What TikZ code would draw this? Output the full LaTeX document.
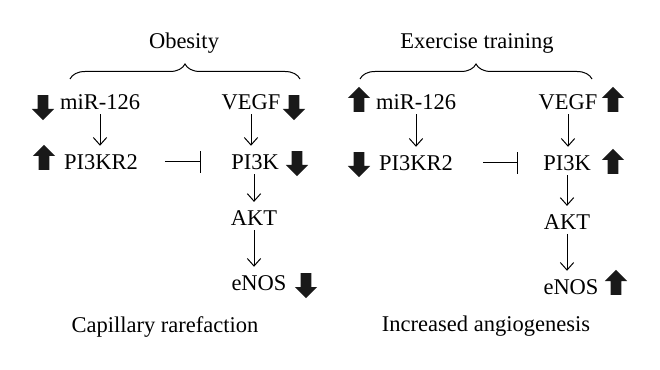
\documentclass[tikz,border=0pt]{standalone}
\usepackage{fontspec}
\setmainfont{Liberation Serif}
\usetikzlibrary{arrows.meta,shapes.arrows,decorations.pathreplacing,positioning}

\begin{document}
\begin{tikzpicture}[x=0.6pt,y=-0.6pt,
    lbl/.style={font=\fontsize{13.5}{16}\selectfont, inner sep=1pt},
    act/.style={-{Straight Barb[length=4.5pt,width=8pt]}, line width=0.6pt,
        shorten <=1.5pt, shorten >=4pt},
    inh/.style={-{Bar[width=13pt]}, line width=0.6pt},
    fat/.style={single arrow, fill=black!90, minimum height=15pt, minimum width=13pt,
        single arrow head extend=3.5pt, inner sep=3pt},
    fatup/.style={fat, shape border rotate=90},
    fatdown/.style={fat, shape border rotate=270},
    grp/.style={decorate, decoration={brace, amplitude=9pt}, line width=0.6pt}]

    \useasboundingbox (0,0) rectangle (660,370);

    % Obesity
    \node[lbl] (obes) at (184,43) {Obesity};
    \coordinate (bLa) at (70,79);
    \coordinate (bLb) at (300,79);
    \draw[grp] (bLa) -- (bLb);

    \node[lbl] (mirL)  at (100,102) {miR-126};
    \node[lbl] (pikrL) at (101,162) {PI3KR2};
    \node[lbl] (vegfL) at (251,102) {VEGF};
    \node[lbl] (pikL)  at (255,162) {PI3K};
    \node[lbl] (aktL)  at (254,218) {AKT};
    \node[lbl] (enosL) at (259,283) {eNOS};
    \node[lbl] (outL)  at (165,327) {Capillary rarefaction};

    \draw[act] (mirL.south) -- (mirL.south |- pikrL.north);
    \draw[act] (vegfL.south) -- (vegfL.south |- pikL.north);
    \draw[act] (aktL.north |- pikL.south) -- (aktL.north);
    \draw[act] (aktL.south) -- (aktL.south |- enosL.north);
    \draw[inh, shorten <=15pt, shorten >=17pt] (pikrL) -- (pikL);

    \node[fatdown] (fL1) at (43,105) {};
    \node[fatdown] (fL2) at (294,105) {};
    \node[fatup]   (fL3) at (44,160) {};
    \node[fatdown] (fL4) at (297,161) {};
    \node[fatdown] (fL5) at (306,283) {};

    % Exercise training
    \node[lbl] (exer) at (477,43) {Exercise training};
    \coordinate (bRa) at (360,79);
    \coordinate (bRb) at (592,79);
    \draw[grp] (bRa) -- (bRb);

    \node[lbl] (mirR)  at (416,102) {miR-126};
    \node[lbl] (pikrR) at (416,163) {PI3KR2};
    \node[lbl] (vegfR) at (568,102) {VEGF};
    \node[lbl] (pikR)  at (567,163) {PI3K};
    \node[lbl] (aktR)  at (567,222) {AKT};
    \node[lbl] (enosR) at (571,287) {eNOS};
    \node[lbl] (outR)  at (486,326) {Increased angiogenesis};

    \draw[act] (mirR.south) -- (mirR.south |- pikrR.north);
    \draw[act] (vegfR.south) -- (vegfR.south |- pikR.north);
    \draw[act] (aktR.north |- pikR.south) -- (aktR.north);
    \draw[act] (aktR.south) -- (aktR.south |- enosR.north);
    \draw[inh, shorten <=17pt, shorten >=14pt] (pikrR) -- (pikR);

    \node[fatup]   (fR1) at (359,102) {};
    \node[fatup]   (fR2) at (613,102) {};
    \node[fatdown] (fR3) at (359,162) {};
    \node[fatup]   (fR4) at (613,164) {};
    \node[fatup]   (fR5) at (616,285) {};

\end{tikzpicture}
\end{document}
